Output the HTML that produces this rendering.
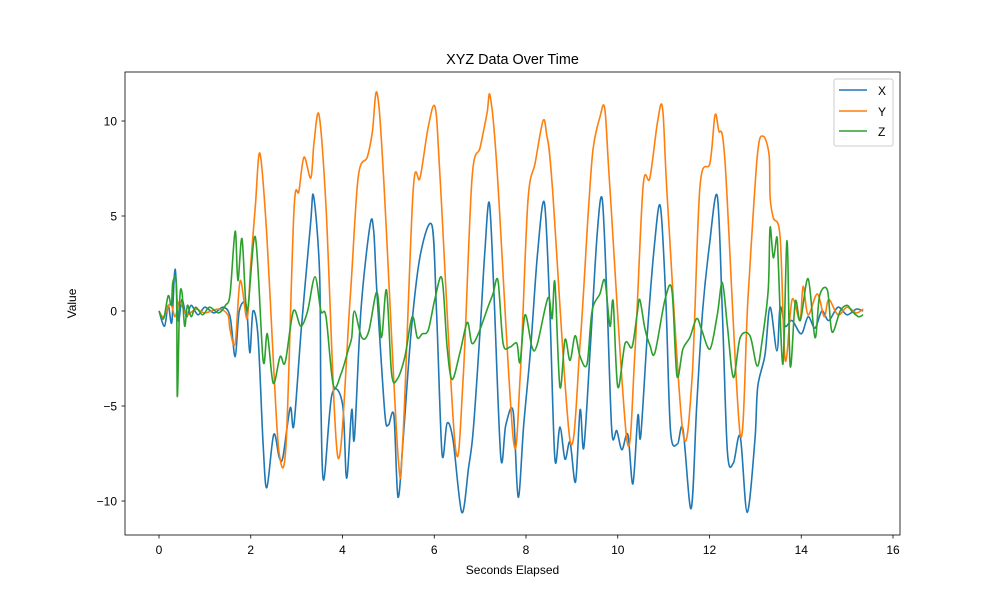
<!DOCTYPE html>
<html><head><meta charset="utf-8"><style>
body{margin:0;background:#fff}
svg text{font-family:"Liberation Sans","DejaVu Sans",sans-serif;fill:#000}
</style></head><body>
<svg id="chart" width="1000" height="600" viewBox="0 0 1000 600" xmlns="http://www.w3.org/2000/svg">
<rect width="1000" height="600" fill="#fff"/>
<text x="512.5" y="64" font-size="14.4" text-anchor="middle">XYZ Data Over Time</text>
<g id="marks"></g>
<rect x="125" y="72" width="775" height="463" fill="none" stroke="#000" stroke-width="0.8"/>
<g id="axes"></g>
<text x="512.5" y="574" font-size="12" text-anchor="middle">Seconds Elapsed</text>
<text x="76" y="303.5" font-size="12" text-anchor="middle" transform="rotate(-90 76 303.5)">Value</text>
<g>
<rect x="834" y="79" width="59" height="67" fill="#fff" fill-opacity="0.8" stroke="#ccc" rx="2"/>
<g><line x1="839" y1="90" x2="867" y2="90" stroke="#1f77b4" stroke-width="1.5"/><text x="878" y="95" font-size="12">X</text></g>
<g><line x1="839" y1="111" x2="867" y2="111" stroke="#ff7f0e" stroke-width="1.5"/><text x="878" y="116" font-size="12">Y</text></g>
<g><line x1="839" y1="131" x2="867" y2="131" stroke="#2ca02c" stroke-width="1.5"/><text x="878" y="136" font-size="12">Z</text></g>
</g>
</svg>
<script>
const xTicks=[0,2,4,6,8,10,12,14,16];
const yTicks=[-10,-5,0,5,10];
const xT=[0,0.12,0.2,0.28,0.35,0.42,0.5,0.6,0.7,0.85,1.0,1.2,1.4,1.55,1.66,1.75,1.9,1.98,2.05,2.16,2.27,2.35,2.5,2.62,2.7,2.86,2.94,3.1,3.3,3.37,3.5,3.53,3.59,3.77,4.0,4.09,4.2,4.26,4.4,4.6,4.68,4.75,4.92,5.0,5.12,5.21,5.33,5.5,5.7,5.95,6.05,6.17,6.28,6.41,6.6,6.75,6.85,7.0,7.1,7.2,7.3,7.45,7.56,7.72,7.83,7.95,8.1,8.25,8.4,8.52,8.63,8.74,8.85,8.96,9.08,9.18,9.26,9.4,9.55,9.66,9.76,9.87,9.98,10.09,10.22,10.33,10.44,10.5,10.65,10.8,10.93,11.05,11.15,11.3,11.42,11.6,11.72,11.85,12.0,12.17,12.28,12.39,12.52,12.67,12.82,12.99,13.05,13.21,13.32,13.47,13.54,13.65,13.8,14.0,14.15,14.3,14.45,14.6,14.8,15.0,15.2,15.35];
const xV=[0,-0.8,0.3,-0.6,2.2,-0.5,0.6,-0.3,0.3,-0.2,0.2,-0.1,0.2,-0.3,-2.4,0,0.3,-2.2,0,-1.4,-7,-9.3,-6.5,-7.7,-7.7,-5.1,-6,-1,4.5,6.05,2,-4.8,-8.9,-4.4,-4.9,-8.8,-5.2,-6.7,0,4.5,4.2,1,-5.3,-6,-5.5,-9.8,-6.5,-1,3,4.5,0,-7.5,-5.9,-6.8,-10.6,-8.2,-6.3,-1,3,5.7,1,-7.7,-6,-5.3,-9.8,-6,-2,3,5.7,0,-7.8,-6.1,-7.8,-6.9,-9.0,-5.2,-7.2,-2,4,5.9,1,-6.3,-6.3,-7.3,-6.5,-9.1,-5.5,-6.6,-1,3.5,5.5,0.5,-6.3,-7,-6.2,-10.4,-5,0,3.5,6.05,0,-7.4,-8,-6.6,-10.6,-6.8,-4,-2.3,0.2,-2.1,0.2,-0.8,-0.5,-1.2,-0.3,-0.9,0,-0.5,0.2,-0.2,0.1,0];
const yT=[0,0.1,0.25,0.35,0.45,0.6,0.8,1.0,1.3,1.5,1.55,1.66,1.77,1.92,2.0,2.1,2.2,2.35,2.5,2.62,2.77,2.94,3.05,3.16,3.31,3.38,3.49,3.64,3.9,4.16,4.34,4.54,4.65,4.75,4.89,5.21,5.32,5.54,5.69,5.87,6.02,6.13,6.46,6.63,6.82,7.0,7.15,7.22,7.37,7.72,7.87,8.04,8.2,8.37,8.45,8.57,8.96,9.18,9.35,9.46,9.61,9.72,9.83,10.2,10.37,10.55,10.7,10.87,10.98,11.09,11.42,11.62,11.79,12.01,12.12,12.2,12.34,12.67,12.84,13.04,13.17,13.3,13.32,13.39,13.54,13.65,13.8,13.97,14.04,14.15,14.35,14.5,14.6,14.8,15.0,15.2,15.35];
const yV=[0,-0.3,0.4,-0.3,0.5,-0.2,0.1,-0.1,0.1,-0.2,-1.0,-1.7,1.6,-0.4,2.5,5.5,8.3,4,-3,-7.5,-7.0,5.2,6.3,8.1,7.0,8.9,10.3,5.5,-7.7,0.4,7.0,8.1,9.4,11.5,7.3,-7.6,-6.5,6.3,7.0,9.7,10.7,6.9,-7.2,-3.5,6.9,8.6,10.4,11.3,7.4,-6.7,-3.6,5.7,7.8,10.0,9.3,6.7,-6.8,-1.7,4.9,8.5,10.2,10.6,6.4,-6.8,-2.4,6.5,7.0,10.0,10.6,5.5,-6.4,-3.5,6.5,7.8,10.3,9.5,7.8,-6.5,0.7,8.1,9.2,8.2,6,4.9,3.9,-2.6,0.6,-0.5,1.3,-0.2,0.9,-0.3,0.6,-0.2,0.2,-0.1,0.1];
const zT=[0,0.1,0.2,0.27,0.3,0.38,0.4,0.45,0.5,0.56,0.62,0.7,0.8,0.95,1.1,1.3,1.45,1.55,1.66,1.72,1.81,1.92,2.1,2.27,2.36,2.49,2.64,2.75,2.93,3.09,3.24,3.4,3.53,3.64,3.8,3.97,4.13,4.2,4.26,4.42,4.57,4.75,4.85,4.96,5.07,5.19,5.36,5.52,5.63,5.74,5.87,6.02,6.17,6.28,6.39,6.56,6.72,6.82,6.96,7.17,7.28,7.39,7.5,7.65,7.8,7.87,7.98,8.13,8.24,8.48,8.57,8.63,8.74,8.85,8.96,9.07,9.18,9.33,9.44,9.61,9.72,9.83,9.9,10.0,10.16,10.31,10.42,10.48,10.59,10.7,10.81,11.03,11.18,11.29,11.42,11.57,11.72,11.83,12.01,12.17,12.28,12.39,12.52,12.67,12.88,13.04,13.15,13.28,13.32,13.39,13.47,13.5,13.6,13.69,13.76,13.87,13.98,14.15,14.3,14.4,14.57,14.67,14.85,15.0,15.1,15.25,15.35];
const zV=[0,-0.4,0.8,0.3,1.5,1.3,-4.5,0.5,1.0,-0.8,0.3,-0.3,0.2,-0.2,0.2,-0.1,0.3,0.9,4.2,1.6,3.8,0,3.9,-2.6,-1.2,-3.8,-2.4,-2.7,0,-0.8,0,1.8,0,-0.3,-3.9,-3.3,-2,-1.4,0,-1.4,-1.1,1,-1.4,1.1,-3.3,-3.6,-2.4,-0.3,-1.4,-1.2,-1,0.7,1.7,-1.9,-3.6,-2.2,-0.6,-1.7,-1.2,0.2,0.9,1.6,-1.7,-1.9,-1.7,-2.7,-0.2,-1.9,-1.8,0.7,-0.4,1.5,-4,-1.5,-2.6,-1.3,-2.4,-2.8,0,0.9,1.6,-0.8,0.5,-4,-1.7,-1.9,-0.2,0.6,-0.9,-1.8,-2.2,0.6,1.1,-3.4,-2,-1.4,-0.4,-1,-2,-0.2,1.5,-0.8,-3.5,-1.4,-1.3,-2.9,-1.5,1.1,4.4,2.8,3.9,2.5,-2.8,3.7,-2.9,0.5,-0.5,1.7,-1.4,0.8,1.1,-1.1,0,0.3,0,-0.3,-0.2];

const X0=159,XS=45.875,Y0=311,YS=19;
function sx(t){return X0+t*XS;}
function sy(v){return Y0-v*YS;}
const NS='http://www.w3.org/2000/svg';
const marks=document.getElementById('marks');
const axes=document.getElementById('axes');
function series(ts,vs,color,name){
  const p=document.createElementNS(NS,'path');
  const P=ts.map((t,i)=>[sx(t),sy(vs[i])]);
  let d='M'+P[0][0].toFixed(1)+','+P[0][1].toFixed(1);
  const k=0.16;
  for(let i=0;i<P.length-1;i++){
    const p0=P[Math.max(0,i-1)],p1=P[i],p2=P[i+1],p3=P[Math.min(P.length-1,i+2)];
    const c1x=p1[0]+(p2[0]-p0[0])*k,c1y=p1[1]+(p2[1]-p0[1])*k;
    const c2x=p2[0]-(p3[0]-p1[0])*k,c2y=p2[1]-(p3[1]-p1[1])*k;
    d+='C'+c1x.toFixed(1)+','+c1y.toFixed(1)+' '+c2x.toFixed(1)+','+c2y.toFixed(1)+' '+p2[0].toFixed(1)+','+p2[1].toFixed(1);
  }
  p.setAttribute('d',d);p.setAttribute('fill','none');p.setAttribute('stroke',color);
  p.setAttribute('stroke-width','1.6');p.setAttribute('stroke-linejoin','round');
  
  
  marks.appendChild(p);
}
series(xT,xV,'#1f77b4','series-x-line');
series(yT,yV,'#ff7f0e','series-y-line');
series(zT,zV,'#2ca02c','series-z-line');
xTicks.forEach(t=>{
  const l=document.createElementNS(NS,'line');
  l.setAttribute('x1',sx(t));l.setAttribute('x2',sx(t));l.setAttribute('y1',535);l.setAttribute('y2',538.5);
  l.setAttribute('stroke','#000');l.setAttribute('stroke-width','0.8');
  
  
  axes.appendChild(l);
  const tx=document.createElementNS(NS,'text');
  tx.setAttribute('x',sx(t));tx.setAttribute('y',554);tx.setAttribute('font-size','12');tx.setAttribute('text-anchor','middle');
  tx.textContent=t;
  
  
  axes.appendChild(tx);
});
yTicks.forEach(v=>{
  const l=document.createElementNS(NS,'line');
  l.setAttribute('x1',121.5);l.setAttribute('x2',125);l.setAttribute('y1',sy(v));l.setAttribute('y2',sy(v));
  l.setAttribute('stroke','#000');l.setAttribute('stroke-width','0.8');
  
  
  axes.appendChild(l);
  const tx=document.createElementNS(NS,'text');
  tx.setAttribute('x',117);tx.setAttribute('y',sy(v)+4.5);tx.setAttribute('font-size','12');tx.setAttribute('text-anchor','end');
  tx.textContent=v<0?'\u2212'+Math.abs(v):String(v);
  
  
  axes.appendChild(tx);
});
</script>
</body></html>
